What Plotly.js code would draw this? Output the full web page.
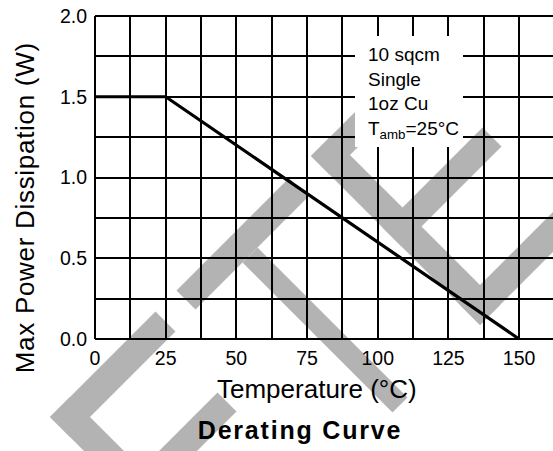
<!DOCTYPE html>
<html><head><meta charset="utf-8">
<script src="https://cdn.plot.ly/plotly-3.0.1.min.js"></script>
<style>
html,body{margin:0;padding:0;background:#fff;}
#chart{width:553px;height:451px;}
.gtitle{letter-spacing:1.8px;}
</style></head><body><div id="chart"></div>
<script>
// ---- data ----
const temperatures = [0, 25, 150];
const maxPower = [1.5, 1.5, 0];
const xTickValues = [0, 25, 50, 75, 100, 125, 150];
const xTickLabels = ['0', '25', '50', '75', '100', '125', '150'];
const yTickValues = [0, 0.5, 1.0, 1.5, 2.0];
const yTickLabels = ['0.0', '0.5', '1.0', '1.5', '2.0'];
const noteLines = ['10 sqcm', 'Single', '1oz Cu', 'T<sub>amb</sub>=25°C'];
const chartTitle = 'Derating Curve';
const xTitle = 'Temperature (°C)';
const yTitle = 'Max Power Dissipation (W)';

// ---- geometry ----
const FONT = 'Liberation Sans, Arial, Helvetica, sans-serif';
const M = {l: 95, r: 0, t: 16, b: 112};
const WIDTH = 553, HEIGHT = 451;
const PW = WIDTH - M.l - M.r, PH = HEIGHT - M.t - M.b;
const px = x => (x - M.l) / PW;
const py = y => 1 - (y - M.t) / PH;

// watermark bands, in rotated pixel frame (u = x + y, v = x - y)
const watermarkBands = [
  [467, 648, -367, -327], [467, 507, -367, -156], [610, 648, -367, -175],
  [467, 505, -114, 111], [505, 805, -20, 10],
  [467, 805, 155, 195], [467, 505, 155, 330], [610, 648, 155, 355], [765, 805, 155, 355]
];
const shapes = watermarkBands.map(([u0, u1, v0, v1]) => {
  const pts = [[u0, v0], [u0, v1], [u1, v1], [u1, v0]].map(([u, v]) => [px((u + v) / 2), py((u - v) / 2)]);
  return {
    type: 'path', xref: 'paper', yref: 'paper', layer: 'below',
    path: 'M' + pts.map(p => p[0].toFixed(5) + ',' + p[1].toFixed(5)).join('L') + 'Z',
    fillcolor: '#b3b3b3', line: {width: 0}
  };
});
// white box behind the note
shapes.push({type: 'rect', xref: 'paper', yref: 'paper', layer: 'above',
  x0: px(355), x1: px(463), y0: py(147), y1: py(36), fillcolor: '#fff', line: {width: 0}});
// top border
shapes.push({type: 'line', xref: 'paper', yref: 'paper', layer: 'above',
  x0: 0, x1: 1, y0: 1, y1: 1, line: {color: '#000', width: 2.2}});

const trace = {
  x: temperatures, y: maxPower, type: 'scatter', mode: 'lines',
  line: {color: '#000', width: 3.2}, hoverinfo: 'skip', showlegend: false
};

const GRID = {gridcolor: '#000', gridwidth: 2};

const layout = {
  width: WIDTH, height: HEIGHT, autosize: false,
  margin: M,
  paper_bgcolor: '#fff', plot_bgcolor: '#fff',
  font: {family: FONT, color: '#000'},
  showlegend: false,
  title: {
    text: '<b>' + chartTitle + '</b>',
    font: {family: FONT, size: 25, color: '#000'},
    xref: 'container', yref: 'container',
    x: 300 / WIDTH, xanchor: 'center',
    y: 1 - 430 / HEIGHT, yanchor: 'middle'
  },
  xaxis: {
    range: [0, 162], tickmode: 'array', tickvals: xTickValues, ticktext: xTickLabels,
    ticks: '', showline: false, ticklabelstandoff: 5,
    showgrid: true, gridcolor: GRID.gridcolor, gridwidth: GRID.gridwidth,
    minor: {tickmode: 'linear', tick0: 0, dtick: 12.5, showgrid: true, gridcolor: GRID.gridcolor, gridwidth: GRID.gridwidth, ticks: ''},
    zeroline: true, zerolinecolor: '#000', zerolinewidth: 2.5,
    tickfont: {family: FONT, size: 19.5, color: '#000'},
    fixedrange: true
  },
  yaxis: {
    range: [0, 2], tickmode: 'array', tickvals: yTickValues, ticktext: yTickLabels,
    ticks: '', showline: false, ticklabelstandoff: 7,
    showgrid: true, gridcolor: GRID.gridcolor, gridwidth: GRID.gridwidth,
    minor: {tickmode: 'linear', tick0: 0, dtick: 0.25, showgrid: true, gridcolor: GRID.gridcolor, gridwidth: GRID.gridwidth, ticks: ''},
    zeroline: true, zerolinecolor: '#000', zerolinewidth: 2.5,
    tickfont: {family: FONT, size: 19.5, color: '#000'},
    fixedrange: true
  },
  shapes: shapes,
  annotations: [
    {text: xTitle, xref: 'paper', yref: 'paper', x: px(317), y: py(389),
     xanchor: 'center', yanchor: 'middle', showarrow: false,
     font: {family: FONT, size: 26, color: '#000'}},
    {text: yTitle, xref: 'paper', yref: 'paper', x: px(24), y: py(207.5),
     xanchor: 'center', yanchor: 'middle', showarrow: false, textangle: -90,
     font: {family: FONT, size: 26, color: '#000'}},
    {text: noteLines.join('<br>'), xref: 'paper', yref: 'paper', x: px(365.7), y: py(93),
     xanchor: 'left', yanchor: 'middle', align: 'left', showarrow: false,
     font: {family: FONT, size: 19, color: '#000'}}
  ]
};

Plotly.newPlot('chart', [trace], layout, {staticPlot: true, displayModeBar: false}).then(() => {
  const texts = document.querySelectorAll('#chart .annotation-text');
  texts.forEach(t => { if (t.textContent === yTitle) t.style.letterSpacing = '0.7px'; });
});
</script></body></html>
